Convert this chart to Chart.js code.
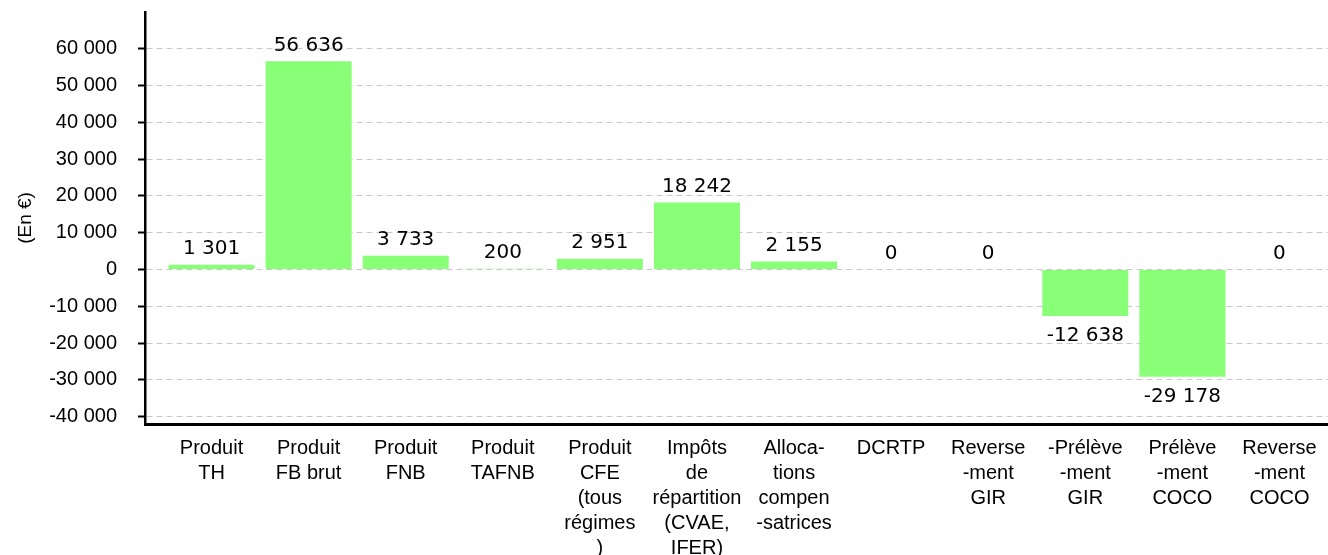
<!DOCTYPE html>
<html lang="fr">
<head>
    <meta charset="UTF-8">
    <title>Produits et prélèvements (En €)</title>
    <style>
        html, body { margin: 0; padding: 0; background: #fff; }
        #wrap { width: 1328px; height: 555px; }
    </style>
</head>
<body>
    <div id="wrap"><canvas id="chart" width="1328" height="555"></canvas></div>

    <script src="https://cdn.jsdelivr.net/npm/chart.js"></script>
    <script>
        const categories = [
            ['Produit', 'TH'],
            ['Produit', 'FB brut'],
            ['Produit', 'FNB'],
            ['Produit', 'TAFNB'],
            ['Produit', 'CFE', '(tous', 'régimes', ')'],
            ['Impôts', 'de', 'répartition', '(CVAE,', 'IFER)'],
            ['Alloca-', 'tions', 'compen', '-satrices'],
            ['DCRTP'],
            ['Reverse', '-ment', 'GIR'],
            ['-Prélève', '-ment', 'GIR'],
            ['Prélève', '-ment', 'COCO'],
            ['Reverse', '-ment', 'COCO']
        ];
        const values = [1301, 56636, 3733, 200, 2951, 18242, 2155, 0, 0, -12638, -29178, 0];
        const yTicks = [-40000, -30000, -20000, -10000, 0, 10000, 20000, 30000, 40000, 50000, 60000];
        const yMin = -42000;
        const yMax = 70000;

        // "56 636" style: space as thousands separator
        function fmt(v) {
            const s = String(Math.abs(v)).replace(/\B(?=(\d{3})+(?!\d))/g, ' ');
            return (v < 0 ? '-' : '') + s;
        }

        // the first category starts a little right of the y axis line
        const shiftX = {
            id: 'shiftX',
            afterLayout(chart) {
                const s = chart.scales.x;
                s._startPixel += 18;
                s._length = s._endPixel - s._startPixel;
            }
        };

        const valueLabels = {
            id: 'valueLabels',
            afterDatasetsDraw(chart) {
                const ctx = chart.ctx;
                const meta = chart.getDatasetMeta(0);
                ctx.save();
                ctx.font = '20px "DejaVu Sans"';
                ctx.fillStyle = '#000';
                ctx.textAlign = 'center';
                ctx.textBaseline = 'alphabetic';
                meta.data.forEach((bar, i) => {
                    const v = values[i];
                    const y = v < 0 ? bar.y + 25 : bar.y - 10.5;
                    ctx.fillText(fmt(v), bar.x, y);
                });
                ctx.restore();
            }
        };

        new Chart(document.getElementById('chart'), {
            type: 'bar',
            data: {
                labels: categories,
                datasets: [{
                    data: values,
                    backgroundColor: '#88ff77',
                    borderWidth: 0,
                    barPercentage: 0.886,
                    categoryPercentage: 1
                }]
            },
            options: {
                responsive: false,
                animation: false,
                devicePixelRatio: 1,
                layout: { padding: { top: 12, left: 0, right: 0, bottom: 0 } },
                plugins: {
                    legend: { display: false },
                    tooltip: { enabled: false }
                },
                scales: {
                    x: {
                        offset: true,
                        afterFit: s => {
                            s.height = 131;
                            s.paddingLeft = 0;
                            s.paddingRight = 0;
                        },
                        grid: { drawOnChartArea: false, drawTicks: false },
                        border: { display: true, color: '#000', width: 3 },
                        ticks: {
                            autoSkip: false,
                            maxRotation: 0,
                            minRotation: 0,
                            padding: 12,
                            color: '#000',
                            font: { family: 'Liberation Sans', size: 20, lineHeight: 1.25 }
                        }
                    },
                    y: {
                        min: yMin,
                        max: yMax,
                        afterBuildTicks: s => { s.ticks = yTicks.map(v => ({ value: v })); },
                        afterFit: s => {
                            s.width = 145;
                            s.paddingTop = 0;
                            s.paddingBottom = 0;
                        },
                        ticks: {
                            padding: 21,
                            color: '#000',
                            font: { family: 'Liberation Sans', size: 20 },
                            callback: v => fmt(v)
                        },
                        grid: {
                            color: '#c8c8c8',
                            lineWidth: 1,
                            tickLength: 7,
                            tickColor: '#000',
                            tickWidth: 2
                        },
                        border: { color: '#000', width: 2.5, dash: [6, 4] },
                        title: {
                            display: true,
                            text: '(En €)',
                            color: '#000',
                            font: { family: 'Liberation Sans', size: 19 },
                            padding: { top: 14, bottom: 0 }
                        }
                    }
                }
            },
            plugins: [shiftX, valueLabels]
        });
    </script>
</body>
</html>
